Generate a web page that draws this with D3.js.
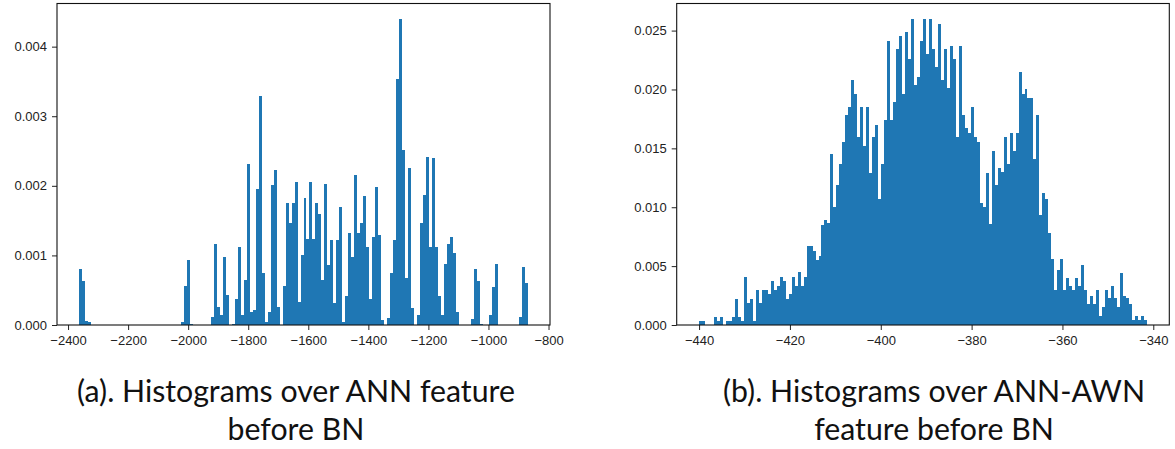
<!DOCTYPE html>
<html>
<head>
<meta charset="utf-8">
<title>Histograms over ANN / ANN-AWN feature before BN</title>
<script src="https://d3js.org/d3.v7.min.js"></script>
<style>
  body { margin: 0; background: #fff; }
  svg { display: block; }
  .tick text { font-family: "Liberation Sans", Arial, sans-serif; font-size: 13px; fill: #222; }
  .tick line { stroke: #222; }
  .bars rect { shape-rendering: crispEdges; }
  .frame { fill: none; stroke: #111; stroke-width: 1.1; }
  .caption { font-family: Lato, "Open Sans", sans-serif; fill: #111; }
</style>
</head>
<body>
<svg width="1175" height="449"></svg>
<script>

// (a) ANN feature before BN: 150 bins, density
var annStart = -2362.2, annBinWidth = 9.95;
var annDensity = [
  0.0008, 0.00063, 0.00006, 0.00004,
  0, 0, 0, 0, 0, 0, 0, 0, 0, 0,
  0, 0, 0, 0, 0, 0, 0, 0, 0, 0,
  0, 0, 0, 0, 0, 0, 0, 0, 0, 0,
  0.00005, 0.00056, 0.00093, 0.00002,
  0, 0, 0, 0, 0, 0,
  0.00012, 0.00117, 0.00026, 0.00014, 0.00098, 0.00043, 0, 0.00002, 0.00038, 0.00112,
  0.00014, 0.00064, 0.00231, 0.00019, 0.00022, 0.00196, 0.00329, 0.00075, 0.00005, 0.00019,
  0.00201, 0.00223, 0.00026, 0, 0.00056, 0.00175, 0.00147, 0.00175, 0.00206, 0.00033,
  0.001, 0.00182, 0.00123, 0.00206, 0.00124, 0.00176, 0.0016, 0.00064, 0.00203, 0.00086,
  0.00122, 0.00031, 0.00122, 0.00169, 0.00005, 0.00041, 0.00132, 0.00098, 0.00215, 0.00132,
  0.00147, 0.00186, 0.00112, 0.00038, 0.00127, 0.00198, 0.00129, 0.00007, 0, 0.0001,
  0.00075, 0.00122, 0.00354, 0.0044, 0.00251, 0.00068, 0.00226, 0.00024, 0, 0.00014,
  0.00147, 0.00187, 0.00242, 0.00112, 0.0024, 0.00112, 0.00042, 0.00014, 0.00088, 0.00117,
  0.00127, 0.00103, 0.00019, 0, 0, 0, 0, 0.00009, 0.0008, 0.00063,
  0.00002, 0, 0, 0.00014, 0.00054, 0.00088, 0, 0, 0, 0,
  0, 0, 0, 0.00012, 0.00083, 0.00061
];
var annXTicks = [-2400, -2200, -2000, -1800, -1600, -1400, -1200, -1000, -800];
var annYTicks = [0, 0.001, 0.002, 0.003, 0.004];

// (b) ANN-AWN feature before BN: 150 bins, density
var awnStart = -440.0, awnBinWidth = 0.6573;
var awnDensity = [
  0.0003, 0.0003, 0, 0, 0, 0.0007, 0.0003, 0.0007, 0, 0.0003,
  0.0003, 0.0007, 0.0022, 0.0007, 0.0003, 0.0041, 0.0019, 0.0022, 0.0003, 0.0030,
  0.0019, 0.0030, 0.0030, 0.0026, 0.0037, 0.0030, 0.0033, 0.0041, 0.0037, 0.0022,
  0.0026, 0.0041, 0.0033, 0.0045, 0.0033, 0.0041, 0.0067, 0.0067, 0.0063, 0.0055,
  0.0059, 0.0085, 0.0089, 0.0087, 0.0145, 0.0100, 0.0119, 0.0137, 0.0155, 0.0178,
  0.0185, 0.0208, 0.0196, 0.0160, 0.0185, 0.0152, 0.0185, 0.0129, 0.0160, 0.0170,
  0.0107, 0.0137, 0.0174, 0.0241, 0.0174, 0.0189, 0.0234, 0.0245, 0.0196, 0.0249,
  0.0226, 0.0260, 0.0204, 0.0211, 0.0241, 0.0260, 0.0230, 0.0260, 0.0234, 0.0219,
  0.0256, 0.0208, 0.0234, 0.0201, 0.0237, 0.0226, 0.0160, 0.0237, 0.0178, 0.0167,
  0.0163, 0.0185, 0.0160, 0.0155, 0.0104, 0.0100, 0.0129, 0.0086, 0.0148, 0.0119,
  0.0133, 0.0130, 0.0160, 0.0137, 0.0163, 0.0148, 0.0163, 0.0215, 0.0196, 0.0200,
  0.0193, 0.0193, 0.0141, 0.0178, 0.0093, 0.0112, 0.0107, 0.0078, 0.0056, 0.0030,
  0.0047, 0.0056, 0.0030, 0.0040, 0.0033, 0.0030, 0.0040, 0.0033, 0.0051, 0.0030,
  0.0018, 0.0025, 0.0018, 0.0030, 0.0008, 0.0015, 0.0030, 0.0023, 0.0033, 0.0023,
  0.0015, 0.0044, 0.0025, 0.0023, 0.0018, 0.0004, 0.0008, 0.0004, 0.0008, 0.0004
];
var awnXTicks = [-440, -420, -400, -380, -360, -340];
var awnYTicks = [0, 0.005, 0.010, 0.015, 0.020, 0.025];

var captionA = ["(a). Histograms over ANN feature", "before BN"];
var captionB = ["(b). Histograms over ANN-AWN", "feature before BN"];

var svg = d3.select("svg");
svg.append("rect").attr("width", 1175).attr("height", 449).attr("fill", "#fff");

function drawHist(box, start, binWidth, values, xTicks, yTicks) {
    var n = values.length;
    var lo = start, hi = start + n * binWidth;
    var pad = (hi - lo) * 0.05;   // matplotlib default margins
    var x = d3.scaleLinear().domain([lo - pad, hi + pad]).range([box.left, box.right]);
    var y = d3.scaleLinear().domain([0, d3.max(values) * 1.05]).range([box.bottom, box.top]);

    var g = svg.append("g");

    g.append("g").attr("class", "bars").selectAll("rect")
        .data(values.map(function(v, i) { return { x0: start + i * binWidth, x1: start + (i + 1) * binWidth, v: v }; })
                    .filter(function(d) { return d.v > 0; }))
        .enter().append("rect")
        .attr("x", function(d) { return x(d.x0); })
        .attr("width", function(d) { return x(d.x1) - x(d.x0); })
        .attr("y", function(d) { return y(d.v); })
        .attr("height", function(d) { return y(0) - y(d.v); })
        .attr("fill", "#1f77b4");

    var xa = g.append("g")
        .attr("transform", "translate(0," + box.bottom + ")")
        .call(d3.axisBottom(x).tickValues(xTicks).tickFormat(d3.format("d")).tickSize(5).tickPadding(6));
    var ya = g.append("g")
        .attr("transform", "translate(" + box.left + ",0)")
        .call(d3.axisLeft(y).tickValues(yTicks).tickFormat(d3.format(".3f")).tickSize(5).tickPadding(5));
    xa.select(".domain").remove();
    ya.select(".domain").remove();

    g.append("rect").attr("class", "frame")
        .attr("x", box.left).attr("y", box.top)
        .attr("width", box.right - box.left).attr("height", box.bottom - box.top);
}

drawHist({ left: 57, right: 550, top: 3.5, bottom: 325 }, annStart, annBinWidth, annDensity, annXTicks, annYTicks);
drawHist({ left: 676.7, right: 1169.3, top: 3.5, bottom: 325 }, awnStart, awnBinWidth, awnDensity, awnXTicks, awnYTicks);

// captions, sized so the first line spans the same width as in the figure
function caption(lines, cx) {
    var t1 = svg.append("text").attr("class", "caption").attr("text-anchor", "middle")
        .attr("x", cx).attr("y", 402).style("font-size", "30px").text(lines[0]);
    var t2 = svg.append("text").attr("class", "caption").attr("text-anchor", "middle")
        .attr("x", cx).attr("y", 440).style("font-size", "30px").text(lines[1]);
    return [t1, t2];
}
var ca = caption(captionA, 296);
var cb = caption(captionB, 934);
var fs = 30 * 438 / ca[0].node().getComputedTextLength();
[ca[0], ca[1], cb[0], cb[1]].forEach(function(t) { t.style("font-size", fs + "px"); });

</script>
</body>
</html>
